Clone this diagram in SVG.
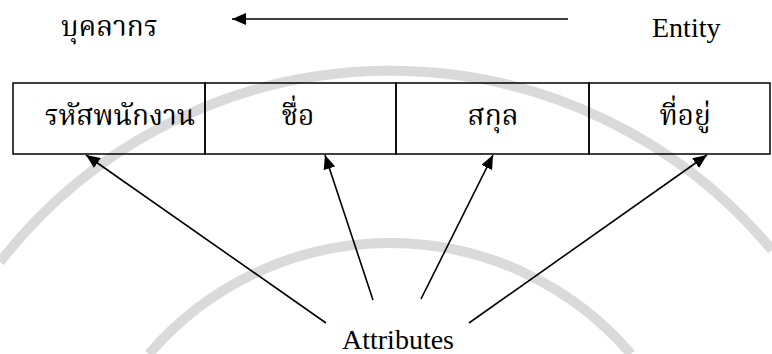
<svg xmlns="http://www.w3.org/2000/svg" width="772" height="354" viewBox="0 0 772 354">
<defs>
<style>
.lbl{font-family:"Liberation Serif","Noto Serif Thai","Noto Sans Thai","Noto Sans",serif;fill:#000;}
.th{font-size:28px;}
.en{font-size:28px;}
.box{fill:none;stroke:#000;stroke-width:1.5;}
.conn{stroke:#000;stroke-width:1.6;fill:none;marker-end:url(#ah);}
.wm{fill:none;stroke:#dadada;stroke-width:10;}
</style>
<marker id="ah" viewBox="0 0 14 12" refX="14" refY="6" markerWidth="14" markerHeight="12" markerUnits="userSpaceOnUse" orient="auto">
<path d="M0,0 L14,6 L0,12 Z" fill="#000"/>
</marker>
</defs>
<rect width="772" height="354" fill="#fff"/>
<g id="watermark">
<path class="wm" d="M0,262 A495,495 0 0 1 772,250"/>
<path class="wm" d="M149,354 A317,317 0 0 1 631,354"/>
</g>
<g id="entity-label">
<text class="lbl th" x="61" y="36">บุคลากร</text>
</g>
<g id="entity-term">
<text class="lbl en" x="652" y="37">Entity</text>
</g>
<g id="attr-term">
<text class="lbl en" x="398" y="349" text-anchor="middle">Attributes</text>
</g>
<g id="cell-id">
<rect class="box" x="13" y="83" width="192" height="71"/>
<text class="lbl th" x="120" y="125" text-anchor="middle">รหัสพนักงาน</text>
</g>
<g id="cell-name">
<rect class="box" x="205" y="83" width="191" height="71"/>
<text class="lbl th" x="298" y="125" text-anchor="middle">ชื่อ</text>
</g>
<g id="cell-surname">
<rect class="box" x="396" y="83" width="193" height="71"/>
<text class="lbl th" x="493" y="125" text-anchor="middle">สกุล</text>
</g>
<g id="cell-address">
<rect class="box" x="589" y="83" width="181" height="71"/>
<text class="lbl th" x="685" y="125" text-anchor="middle">ที่อยู่</text>
</g>
<g id="connectors">
<line class="conn" x1="568" y1="19" x2="232" y2="19"/>
<line class="conn" x1="326" y1="323" x2="86" y2="155"/>
<line class="conn" x1="373" y1="300" x2="325" y2="155"/>
<line class="conn" x1="421" y1="299" x2="493" y2="155"/>
<line class="conn" x1="469" y1="323" x2="707" y2="155"/>
</g>
</svg>
